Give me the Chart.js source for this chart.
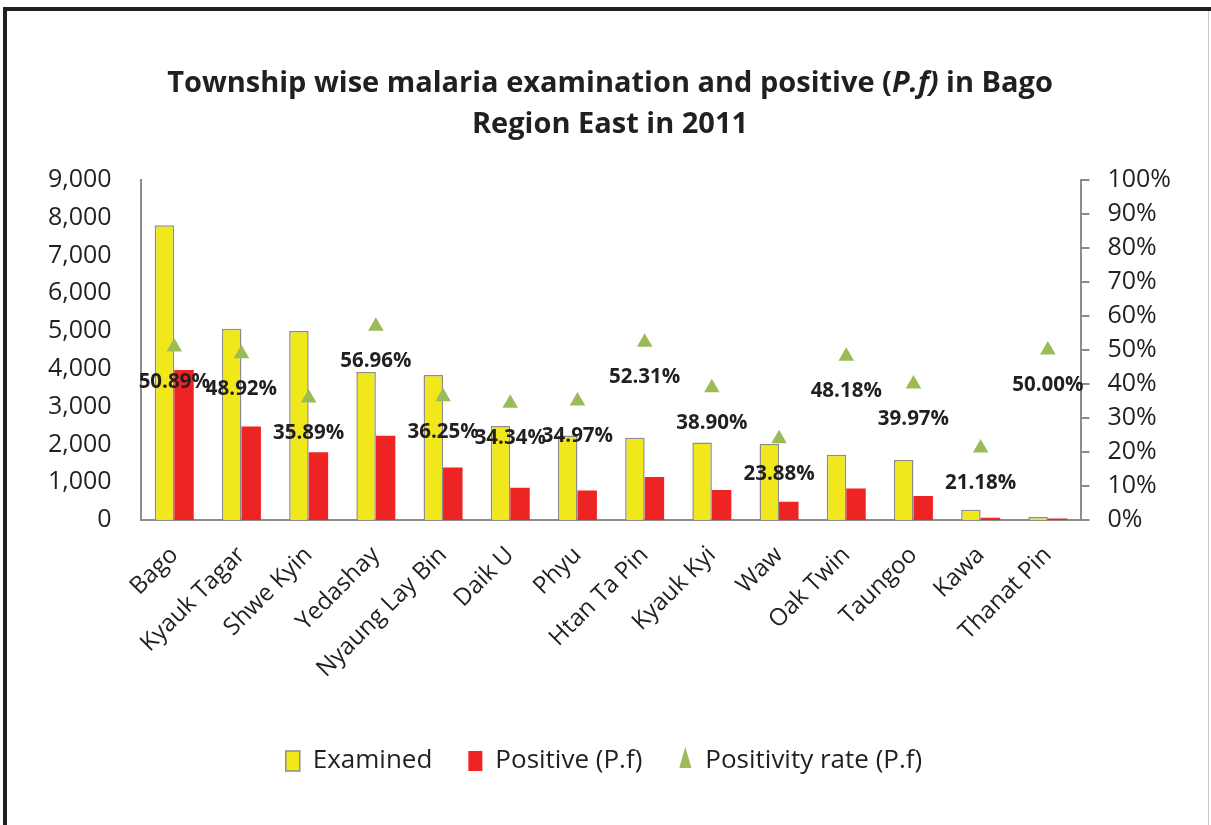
<!DOCTYPE html>
<html>
<head>
<meta charset="utf-8">
<script src="https://cdn.jsdelivr.net/npm/chart.js@4"></script>
<style>
  html, body { margin: 0; padding: 0; background: #fff; }
  #wrap { width: 1211px; height: 825px; position: relative; }
</style>
</head>
<body>
<div id="wrap"><canvas id="malariaChart" width="1211" height="825"></canvas></div>
<script>
var townships = ['Bago', 'Kyauk Tagar', 'Shwe Kyin', 'Yedashay', 'Nyaung Lay Bin', 'Daik U', 'Phyu',
    'Htan Ta Pin', 'Kyauk Kyi', 'Waw', 'Oak Twin', 'Taungoo', 'Kawa', 'Thanat Pin'];
var examined = [7800, 5060, 5000, 3920, 3840, 2490, 2240, 2180, 2050, 2010, 1730, 1590, 270, 80];
var positive = [3970, 2475, 1795, 2233, 1392, 855, 783, 1140, 797, 480, 834, 636, 57, 40];
var positivityRate = [50.89, 48.92, 35.89, 56.96, 36.25, 34.34, 34.97, 52.31, 38.90, 23.88, 48.18, 39.97, 21.18, 50.00];
var titleLines = [
    [['Township wise malaria examination and positive (', false], ['P.f)', true], [' in Bago', false]],
    [['Region East in 2011', false]]
];

var textColor = '#231f20';
var axisColor = '#8c8c8c';
var fontFamily = '"Open Sans", "Noto Sans", sans-serif';

// frame + title drawn on the canvas
var framePlugin = {
    id: 'frame',
    beforeDraw: function (chart) {
        var ctx = chart.ctx;
        ctx.save();
        ctx.fillStyle = '#fff';
        ctx.fillRect(0, 0, chart.width, chart.height);
        ctx.fillStyle = textColor;
        ctx.fillRect(3, 7, 1208, 4);
        ctx.fillRect(3, 7, 4, 818);
        ctx.fillStyle = '#c8c8c8';
        ctx.fillRect(1208, 11, 1, 814);

        var size = 29;
        var baselines = [92, 133];
        titleLines.forEach(function (parts, i) {
            var total = 0;
            parts.forEach(function (p) {
                ctx.font = (p[1] ? 'italic ' : '') + 'bold ' + size + 'px ' + fontFamily;
                total += ctx.measureText(p[0]).width;
            });
            var x = 610 - total / 2;
            ctx.textBaseline = 'alphabetic';
            ctx.textAlign = 'left';
            ctx.fillStyle = textColor;
            parts.forEach(function (p) {
                ctx.font = (p[1] ? 'italic ' : '') + 'bold ' + size + 'px ' + fontFamily;
                ctx.fillText(p[0], x, baselines[i]);
                x += ctx.measureText(p[0]).width;
            });
        });
        ctx.restore();
    }
};

// percentage labels under each triangle
var rateLabels = {
    id: 'rateLabels',
    afterDatasetsDraw: function (chart) {
        var ctx = chart.ctx;
        var meta = chart.getDatasetMeta(2);
        ctx.save();
        ctx.font = 'bold 20.5px ' + fontFamily;
        ctx.fillStyle = textColor;
        ctx.textAlign = 'center';
        ctx.textBaseline = 'middle';
        meta.data.forEach(function (pt, i) {
            ctx.fillText(positivityRate[i].toFixed(2) + '%', pt.x, pt.y + 35);
        });
        ctx.restore();
    }
};

var ctx = document.getElementById('malariaChart').getContext('2d');
var chart = new Chart(ctx, {
    type: 'bar',
    data: {
        labels: townships,
        datasets: [{
            label: 'Examined',
            data: examined,
            backgroundColor: '#f1e81c',
            borderColor: '#8c8c8c',
            borderWidth: 1.5,
            borderSkipped: 'bottom',
            order: 1
        }, {
            label: 'Positive (P.f)',
            data: positive,
            backgroundColor: '#ee2424',
            borderWidth: 0,
            order: 1
        }, {
            type: 'line',
            label: 'Positivity rate (P.f)',
            data: positivityRate,
            yAxisID: 'y1',
            showLine: false,
            pointStyle: 'triangle',
            pointRadius: 9,
            pointBackgroundColor: '#9bbb59',
            pointBorderColor: '#9bbb59',
            pointBorderWidth: 0,
            backgroundColor: '#9bbb59',
            borderColor: '#9bbb59',
            order: 0
        }]
    },
    options: {
        responsive: false,
        animation: false,
        datasets: {
            bar: { categoryPercentage: 0.58, barPercentage: 1 }
        },
        layout: { padding: { top: 180, left: 19, right: 22, bottom: 41 } },
        plugins: {
            legend: {
                position: 'bottom',
                labels: {
                    usePointStyle: true,
                    pointStyleWidth: 14,
                    boxHeight: 20,
                    padding: 36,
                    color: textColor,
                    font: { family: fontFamily, size: 26 },
                    sort: function (a, b) { return a.datasetIndex - b.datasetIndex; },
                    generateLabels: function (c) {
                        var items = Chart.defaults.plugins.legend.labels.generateLabels(c);
                        items.forEach(function (it) {
                            it.pointStyle = it.datasetIndex === 2 ? 'triangle' : 'rect';
                            if (it.datasetIndex === 1) { it.lineWidth = 0; }
                        });
                        return items;
                    }
                }
            },
            tooltip: { enabled: false }
        },
        scales: {
            x: {
                grid: { display: false },
                border: { color: axisColor, width: 2 },
                afterFit: function (axis) { axis.height = 192; },
                ticks: {
                    minRotation: 45,
                    maxRotation: 45,
                    autoSkip: false,
                    padding: 13,
                    color: textColor,
                    font: { family: fontFamily, size: 24 }
                }
            },
            y: {
                position: 'left',
                min: 0,
                max: 9000,
                grid: { display: false, drawTicks: false },
                border: { color: axisColor, width: 2 },
                ticks: {
                    stepSize: 1000,
                    padding: 29,
                    color: textColor,
                    font: { family: fontFamily, size: 25 },
                    callback: function (v) { return v.toLocaleString('en-US'); }
                }
            },
            y1: {
                position: 'right',
                min: 0,
                max: 100,
                grid: { display: true, drawOnChartArea: false, drawTicks: true, tickLength: 8, color: axisColor, lineWidth: 2 },
                border: { color: axisColor, width: 2 },
                ticks: {
                    stepSize: 10,
                    padding: 18,
                    color: textColor,
                    font: { family: fontFamily, size: 25 },
                    callback: function (v) { return v + '%'; }
                }
            }
        }
    },
    plugins: [framePlugin, rateLabels]
});
</script>
</body>
</html>
